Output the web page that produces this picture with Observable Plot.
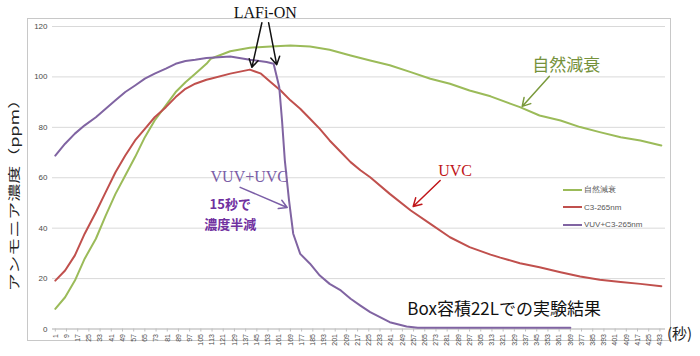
<!DOCTYPE html>
<html><head><meta charset="utf-8">
<script src="https://cdn.jsdelivr.net/npm/d3@7"></script>
<script src="https://cdn.jsdelivr.net/npm/@observablehq/plot@0.6"></script>
<style>
body{margin:0;background:#fff;}
#wrap{position:relative;width:700px;height:356px;overflow:hidden;background:#fff;font-family:"Noto Sans CJK JP","Noto Sans",sans-serif;}
#frame{position:absolute;left:27px;top:18px;width:644px;height:323px;border:1px solid #c8c8c8;box-sizing:border-box;}
#chart{position:absolute;left:0;top:0;}
#ytitle{position:absolute;left:13px;top:191px;transform:translate(-50%,-50%) rotate(-90deg) scaleX(1.5);font-size:12px;color:#222;white-space:nowrap;}
#xunit{position:absolute;left:667px;top:322px;font-size:15px;color:#222;white-space:nowrap;}
#legend{position:absolute;left:563px;top:181px;font-family:"Liberation Sans","DejaVu Sans",sans-serif;font-size:8px;color:#595959;}
#legend div{height:17.5px;display:flex;align-items:center;}
#legend span.sw{display:inline-block;width:19px;height:2px;margin-right:2px;}
</style></head>
<body>
<div id="wrap">
  <div id="frame"></div>
  <div id="chart"></div>
  <div id="ytitle">アンモニア濃度（ppm）</div>
  <div id="xunit">(秒)</div>
  <div id="legend"></div>
</div>
<script>
// ---- data (seconds, ppm) ----
const seriesNames = ["自然減衰", "C3-265nm", "VUV+C3-265nm"];
const seriesColors = ["#9bbb59", "#c0504d", "#8064a2"];

const greenT = [1,8,15,22,30,37,44,51,58,65,72,80,87,94,101,109,112,126,140,155,169,183,197,212,226,240,255,269,283,297,312,326,333,347,362,376,390,405,419,434];
const greenV = [8,12.6,19.2,27.9,35.8,45,53.6,60.9,68.2,76.1,82.7,88.7,94,97.9,101.3,105.2,107.2,110.2,111.6,112.1,112.5,112.1,110.8,108.5,106.5,104.6,101.9,99.3,97.3,94.6,92.3,89.4,88,84.7,82.7,80.1,78.1,76.1,74.8,72.8];

const redT = [1,8,15,22,30,37,44,51,58,65,72,80,87,94,101,109,112,126,140,148,155,162,169,176,183,190,197,205,212,219,226,240,255,269,283,297,312,319,333,347,362,376,390,405,419,434];
const redV = [19.2,23.2,29.2,37.8,46.3,54.3,62.2,68.8,74.8,79.4,84,88,92,95.3,97.3,98.9,99.3,101.3,102.9,101.3,97.9,94.6,90.7,87.4,83.4,79.4,74.8,70.2,66.2,63,60.2,53.6,47,41.7,36.4,32.5,29.5,28.3,26.1,24.5,22.5,20.8,19.5,18.6,17.9,17];

const purpleT = [1,8,15,22,30,37,44,51,58,65,72,80,87,94,101,109,112,126,140,152,157,161,163,165,168,171,176,183,190,197,205,212,219,226,240,252,260,369];
const purpleV = [68.8,73.5,77.5,80.8,84,87.4,90.7,94,96.6,99.3,101.3,103.3,105.2,106.3,106.8,107.5,107.6,108.1,106.8,105.9,105.2,96,82.7,66.9,51,37.8,29.8,25.9,21.2,17.9,15.3,12,9.3,6.7,2.7,1,0.5,0.5];

const yTicks = [0,20,40,60,80,100,120];
const xTicks = d3.range(1, 434, 8); // 1, 9, 17, ... 433

// annotations in data coordinates (seconds, ppm)
const serifLabels = [
  {t:151, v:125.3, text:"LAFi-ON", color:"#111"},
  {t:139.6, v:60.5, text:"VUV+UVC", color:"#7b5ea7"},
  {t:286.7, v:62.9, text:"UVC", color:"#c0161a"}
];
const boldLabels = [
  {t:126, v:49.3, text:"15秒で"},
  {t:126, v:41.3, text:"濃度半減"}
];
const greenLabel = [{t:366, v:104.5, text:"自然減衰"}];
const noteLabel = [{t:321.7, v:7.6, text:"Box容積22Lでの実験結果"}];
const arrows = [
  {t1:148.6, v1:121.5, t2:141.5, v2:103.8, color:"#111"},
  {t1:153.4, v1:121.5, t2:159.2, v2:104.8, color:"#111"},
  {t1:133.1, v1:56.2, t2:166.7, v2:48.2, color:"#7b5ea7"},
  {t1:276, v1:58.9, t2:256.7, v2:48.6, color:"#c0161a"},
  {t1:353.9, v1:100.2, t2:334.6, v2:88.3, color:"#7a9a3c"}
];

const toRows = (T, V) => T.map((t, i) => ({t, v: V[i]}));
const series = [toRows(greenT, greenV), toRows(redT, redV), toRows(purpleT, purpleV)];

const chart = Plot.plot({
  width: 700, height: 356,
  marginLeft: 52, marginRight: 35, marginTop: 26, marginBottom: 27.5,
  x: {domain: [-1, 437]},
  y: {domain: [0, 120]},
  style: {background: "transparent", overflow: "visible", fontFamily: "'Liberation Sans','DejaVu Sans',sans-serif"},
  marks: [
    Plot.gridY(yTicks, {stroke: "#d9d9d9", strokeOpacity: 1, strokeWidth: 1}),
    Plot.axisY(yTicks, {tickSize: 0, tickPadding: 5, fontSize: 8, fill: "#4a4a4a", label: null}),
    Plot.ruleY([0], {stroke: "#bfbfbf", strokeWidth: 1.2}),
    Plot.axisX(xTicks, {tickRotate: -90, tickSize: 3, tickPadding: 2, fontSize: 7, fill: "#4a4a4a", stroke: "#bfbfbf", label: null}),
    ...series.map((d, i) => Plot.line(d, {x: "t", y: "v", stroke: seriesColors[i], strokeWidth: 2})),
    Plot.arrow(arrows, {x1: "t1", y1: "v1", x2: "t2", y2: "v2", stroke: "color", strokeWidth: 1.5, headLength: 9}),
    Plot.text(serifLabels, {x: "t", y: "v", text: "text", fill: "color", fontSize: 16, fontFamily: "'Liberation Serif','DejaVu Serif',serif"}),
    Plot.text(boldLabels, {x: "t", y: "v", text: "text", fill: "#7030a0", fontSize: 13, fontWeight: "bold", fontFamily: "'Noto Sans CJK JP',sans-serif"}),
    Plot.text(greenLabel, {x: "t", y: "v", text: "text", fill: "#76923c", fontSize: 17, fontFamily: "'Noto Sans CJK JP',sans-serif"}),
    Plot.text(noteLabel, {x: "t", y: "v", text: "text", fill: "#111", fontSize: 17, fontFamily: "'Noto Sans CJK JP',sans-serif"})
  ]
});
document.getElementById("chart").appendChild(chart);

const legend = document.getElementById("legend");
seriesNames.forEach((n, i) => {
  const row = document.createElement("div");
  row.innerHTML = `<span class="sw" style="background:${seriesColors[i]}"></span>${n}`;
  legend.appendChild(row);
});
</script>
</body></html>
